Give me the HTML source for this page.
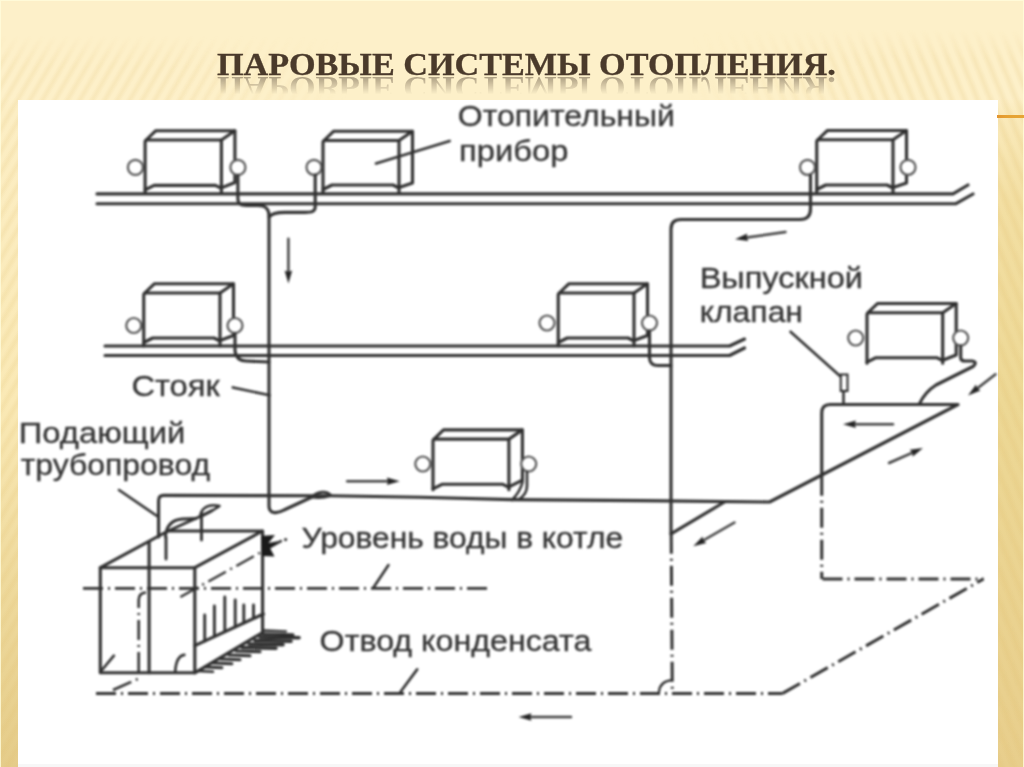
<!DOCTYPE html>
<html><head><meta charset="utf-8"><style>
html,body{margin:0;padding:0;}
body{width:1024px;height:767px;overflow:hidden;position:relative;background:#FDF0C9;}
.bg{position:absolute;left:0;top:0;width:1024px;height:767px;}
.wL{position:absolute;left:0;top:0;width:360px;height:767px;-webkit-mask-image:linear-gradient(90deg,#000 0px,#000 170px,rgba(0,0,0,0) 350px);}
.wR{position:absolute;left:660px;top:0;width:364px;height:767px;-webkit-mask-image:linear-gradient(270deg,#000 0px,#000 150px,rgba(0,0,0,0) 340px);}
.stL{position:absolute;left:0;top:36px;width:360px;height:731px;
 background:repeating-linear-gradient(120deg, rgba(225,190,110,0) 0px, rgba(225,190,110,.15) 3.5px, rgba(225,190,110,.15) 4.5px, rgba(225,190,110,0) 8px, rgba(225,190,110,0) 10.8px);
 -webkit-mask-image:linear-gradient(180deg, rgba(0,0,0,0) 0px, #000 30px);}
.stR{position:absolute;left:0;top:30px;width:364px;height:737px;
 background:repeating-linear-gradient(68deg, rgba(225,190,110,0) 0px, rgba(225,190,110,.17) 4px, rgba(225,190,110,.17) 5px, rgba(225,190,110,0) 9px, rgba(225,190,110,0) 12px);
 -webkit-mask-image:linear-gradient(180deg, rgba(0,0,0,0) 0px, #000 30px);}
.goldL{position:absolute;left:0;top:0;width:18px;height:767px;background:linear-gradient(180deg,#FDF0C9 0px,#FDF0C9 98px,#FCEEC4 110px,#FAE9B5 400px,#EFDA9D 580px,#E5CC89 767px);}
.goldR{position:absolute;left:997px;top:0;width:27px;height:767px;background:linear-gradient(180deg,#FDF0C9 0px,#FDF0C9 98px,#FAEABB 115px,#F3DFA3 200px,#EDD895 400px,#E8CE8C 767px);}
.edge{position:absolute;left:0;top:0;width:1022px;height:767px;border:1px solid rgba(255,252,220,.8);border-bottom:none;}
.white{position:absolute;left:17.5px;top:99.7px;width:980px;height:668px;background:#fff;}
.orange{position:absolute;left:997px;top:115.3px;width:27px;height:2.6px;background:linear-gradient(90deg,#E3952E,#E6A232 40%,#E6A535);}
.title{position:absolute;left:217px;top:47px;font-family:"Liberation Serif",serif;font-weight:bold;font-size:32px;line-height:34px;color:#4A3A2B;white-space:nowrap;transform:scaleX(1.068);transform-origin:0 0;-webkit-text-stroke:0.3px #4A3A2B;}
.refl{position:absolute;left:217px;top:47px;font-family:"Liberation Serif",serif;font-weight:bold;font-size:32px;line-height:34px;color:#4A3A2B;white-space:nowrap;transform:scale(1.068,-1);transform-origin:0 29.2px;opacity:.45;
 -webkit-mask-image:linear-gradient(180deg, rgba(0,0,0,0) 0px, rgba(0,0,0,0) 11px, #000 29px);}
svg{position:absolute;left:0;top:0;filter:blur(0.8px);}
svg text{font-family:"Liberation Sans",sans-serif;font-size:29.5px;fill:#333;stroke:#333;stroke-width:0.3px;}
</style></head><body>
<div class="goldL"></div><div class="goldR"></div>
<div class="wL"><div class="stL"></div></div><div class="wR"><div class="stR"></div></div>
<div class="white"></div>
<div style="position:absolute;left:17.5px;top:764px;width:980px;height:3px;background:#f7f7f7;"></div>
<div class="edge"></div>
<div class="orange"></div>
<div class="title">ПАРОВЫЕ СИСТЕМЫ ОТОПЛЕНИЯ.</div>
<div class="refl">ПАРОВЫЕ СИСТЕМЫ ОТОПЛЕНИЯ.</div>
<svg width="1024" height="767" viewBox="0 0 1024 767">
<path d="M97 193.9 H953 L968 185" fill="none" stroke="#303030" stroke-width="3.12" stroke-linecap="round" stroke-linejoin="round" />
<path d="M97 203.8 H955.5 L973 194" fill="none" stroke="#303030" stroke-width="3.12" stroke-linecap="round" stroke-linejoin="round" />
<path d="M105 346 H729.5 L744.5 339" fill="none" stroke="#303030" stroke-width="3.12" stroke-linecap="round" stroke-linejoin="round" />
<path d="M105 355.5 H729.5 L744.5 348" fill="none" stroke="#303030" stroke-width="3.12" stroke-linecap="round" stroke-linejoin="round" />
<path d="M145.1 193 V142 Q145.1 140 147.1 140 H221.4 V193" fill="none" stroke="#303030" stroke-width="3.12" stroke-linecap="round" stroke-linejoin="round" />
<path d="M146.1 140 L155.6 130.8 H234.9 L221.4 140" fill="none" stroke="#303030" stroke-width="3.12" stroke-linecap="round" stroke-linejoin="round" />
<path d="M234.9 130.8 V182.5 L221.4 187.9" fill="none" stroke="#303030" stroke-width="3.12" stroke-linecap="round" stroke-linejoin="round" />
<path d="M145.1 189.9 L154.1 185.4 H215.4 L221.4 188.4" fill="none" stroke="#303030" stroke-width="3.12" stroke-linecap="round" stroke-linejoin="round" />
<path d="M323 193.5 V142.5 Q323 140.5 325 140.5 H399 V193.5" fill="none" stroke="#303030" stroke-width="3.12" stroke-linecap="round" stroke-linejoin="round" />
<path d="M324 140.5 L333.5 131.3 H412.5 L399 140.5" fill="none" stroke="#303030" stroke-width="3.12" stroke-linecap="round" stroke-linejoin="round" />
<path d="M412.5 131.3 V183.0 L399 187.5" fill="none" stroke="#303030" stroke-width="3.12" stroke-linecap="round" stroke-linejoin="round" />
<path d="M323 189.5 L332 185 H393 L399 188" fill="none" stroke="#303030" stroke-width="3.12" stroke-linecap="round" stroke-linejoin="round" />
<path d="M816.75 193.5 V141.75 Q816.75 139.75 818.75 139.75 H893 V193.5" fill="none" stroke="#303030" stroke-width="3.12" stroke-linecap="round" stroke-linejoin="round" />
<path d="M817.75 139.75 L827.25 130.55 H906.5 L893 139.75" fill="none" stroke="#303030" stroke-width="3.12" stroke-linecap="round" stroke-linejoin="round" />
<path d="M906.5 130.55 V183.0 L893 187.5" fill="none" stroke="#303030" stroke-width="3.12" stroke-linecap="round" stroke-linejoin="round" />
<path d="M816.75 189.5 L825.75 185 H887 L893 188" fill="none" stroke="#303030" stroke-width="3.12" stroke-linecap="round" stroke-linejoin="round" />
<path d="M143.75 346 V295 Q143.75 293 145.75 293 H220 V346" fill="none" stroke="#303030" stroke-width="3.12" stroke-linecap="round" stroke-linejoin="round" />
<path d="M144.75 293 L154.25 283.8 H233.5 L220 293" fill="none" stroke="#303030" stroke-width="3.12" stroke-linecap="round" stroke-linejoin="round" />
<path d="M233.5 283.8 V335.5 L220 340.5" fill="none" stroke="#303030" stroke-width="3.12" stroke-linecap="round" stroke-linejoin="round" />
<path d="M143.75 342.5 L152.75 338 H214 L220 341" fill="none" stroke="#303030" stroke-width="3.12" stroke-linecap="round" stroke-linejoin="round" />
<path d="M558.25 346 V295 Q558.25 293 560.25 293 H634 V346" fill="none" stroke="#303030" stroke-width="3.12" stroke-linecap="round" stroke-linejoin="round" />
<path d="M559.25 293 L568.75 283.8 H647.5 L634 293" fill="none" stroke="#303030" stroke-width="3.12" stroke-linecap="round" stroke-linejoin="round" />
<path d="M647.5 283.8 V335.5 L634 340.5" fill="none" stroke="#303030" stroke-width="3.12" stroke-linecap="round" stroke-linejoin="round" />
<path d="M558.25 342.5 L567.25 338 H628 L634 341" fill="none" stroke="#303030" stroke-width="3.12" stroke-linecap="round" stroke-linejoin="round" />
<path d="M433 489.7 V441.1 Q433 439.1 435 439.1 H508.9 V489.7" fill="none" stroke="#303030" stroke-width="3.12" stroke-linecap="round" stroke-linejoin="round" />
<path d="M434 439.1 L443.5 429.90000000000003 H522.4 L508.9 439.1" fill="none" stroke="#303030" stroke-width="3.12" stroke-linecap="round" stroke-linejoin="round" />
<path d="M522.4 429.90000000000003 V480.2 L508.9 486.8" fill="none" stroke="#303030" stroke-width="3.12" stroke-linecap="round" stroke-linejoin="round" />
<path d="M433 488.8 L442 484.3 H502.9 L508.9 487.3" fill="none" stroke="#303030" stroke-width="3.12" stroke-linecap="round" stroke-linejoin="round" />
<path d="M867 363.2 V314.7 Q867 312.7 869 312.7 H942.7 V363.2" fill="none" stroke="#303030" stroke-width="3.12" stroke-linecap="round" stroke-linejoin="round" />
<path d="M868 312.7 L877.5 303.5 H956.2 L942.7 312.7" fill="none" stroke="#303030" stroke-width="3.12" stroke-linecap="round" stroke-linejoin="round" />
<path d="M956.2 303.5 V355 L942.7 360.2" fill="none" stroke="#303030" stroke-width="3.12" stroke-linecap="round" stroke-linejoin="round" />
<path d="M867 362.2 L876 357.7 H936.7 L942.7 360.7" fill="none" stroke="#303030" stroke-width="3.12" stroke-linecap="round" stroke-linejoin="round" />
<circle cx="135.4" cy="167.4" r="7.5" fill="#fff" stroke="#555" stroke-width="2.2"/>
<circle cx="237.9" cy="167.4" r="7.5" fill="#fff" stroke="#555" stroke-width="2.2"/>
<circle cx="314" cy="167.3" r="7.5" fill="#fff" stroke="#555" stroke-width="2.2"/>
<circle cx="807.5" cy="167.3" r="7.5" fill="#fff" stroke="#555" stroke-width="2.2"/>
<circle cx="908" cy="167.3" r="7.5" fill="#fff" stroke="#555" stroke-width="2.2"/>
<circle cx="133.75" cy="325.5" r="7.5" fill="#fff" stroke="#555" stroke-width="2.2"/>
<circle cx="235" cy="325.5" r="7.5" fill="#fff" stroke="#555" stroke-width="2.2"/>
<circle cx="547" cy="323" r="7.5" fill="#fff" stroke="#555" stroke-width="2.2"/>
<circle cx="649.5" cy="323" r="7.5" fill="#fff" stroke="#555" stroke-width="2.2"/>
<circle cx="422.8" cy="464" r="7.5" fill="#fff" stroke="#555" stroke-width="2.2"/>
<circle cx="528.7" cy="464" r="7.5" fill="#fff" stroke="#555" stroke-width="2.2"/>
<circle cx="855.7" cy="338" r="7.5" fill="#fff" stroke="#555" stroke-width="2.2"/>
<circle cx="960.7" cy="338" r="7.5" fill="#fff" stroke="#555" stroke-width="2.2"/>
<path d="M237.9 175.5 V199 C238 205, 242 205.5, 250 205.5 L258 205.5 C266 205.5, 269 209, 269 216 V506 C269 514, 277 514, 284 510 L312 497" fill="none" stroke="#303030" stroke-width="3.12" stroke-linecap="round" stroke-linejoin="round" />
<path d="M315.2 175 V207 C315 211.5, 312 212.4, 305 212.4 L285 212.4 C278 212.4, 272 213, 269 217" fill="none" stroke="#303030" stroke-width="3.12" stroke-linecap="round" stroke-linejoin="round" />
<path d="M312 497 C318 491, 327 490.5, 331 495.5 C325 497.5, 318 498.5, 312 497" fill="none" stroke="#303030" stroke-width="2.60" stroke-linecap="round" stroke-linejoin="round" />
<path d="M235 333.5 V351 Q236 360.5 246 361 L269 362" fill="none" stroke="#303030" stroke-width="3.12" stroke-linecap="round" stroke-linejoin="round" />
<path d="M232.8 387.4 L269.7 395.3" fill="none" stroke="#303030" stroke-width="2.60" stroke-linecap="round" stroke-linejoin="round" />
<path d="M671 533.8 V229 Q671 219.5 681 219.5 H800 Q810.5 219.5 810.5 209 V175.5" fill="none" stroke="#303030" stroke-width="3.12" stroke-linecap="round" stroke-linejoin="round" />
<path d="M649.5 331 V358 Q650 365.5 658 365.5 H671" fill="none" stroke="#303030" stroke-width="3.12" stroke-linecap="round" stroke-linejoin="round" />
<path d="M671 533.8 L724.5 502" fill="none" stroke="#303030" stroke-width="3.12" stroke-linecap="round" stroke-linejoin="round" />
<path d="M158.6 537 V500.4 Q158.6 495.4 163.6 495.4 L330 495.8 L420 497.3 L512 499.6 L640 500.6 L769.5 502 L958 404.5 H830 Q821.75 404.5 821.75 413 V475.7" fill="none" stroke="#303030" stroke-width="3.12" stroke-linecap="round" stroke-linejoin="round" />
<path d="M527 472 V486 Q527 494 519 499.3" fill="none" stroke="#303030" stroke-width="2.60" stroke-linecap="round" stroke-linejoin="round" />
<path d="M522.6 482 Q520 492 512 500" fill="none" stroke="#303030" stroke-width="2.60" stroke-linecap="round" stroke-linejoin="round" />
<path d="M960.7 346 V358 Q961 361 965 361 H972 Q978 362 973 366.5 L936 385 Q925 392 919.5 403.7" fill="none" stroke="#303030" stroke-width="3.12" stroke-linecap="round" stroke-linejoin="round" />
<rect x="840.75" y="374.5" width="6.75" height="16.5" fill="#fff" stroke="#262626" stroke-width="2"/>
<path d="M843.5 391 V404.5" fill="none" stroke="#303030" stroke-width="2.60" stroke-linecap="round" stroke-linejoin="round" />
<path d="M790.5 331.75 L840 376" fill="none" stroke="#303030" stroke-width="2.60" stroke-linecap="round" stroke-linejoin="round" />
<path d="M376 163.5 L449.75 141" fill="none" stroke="#303030" stroke-width="2.60" stroke-linecap="round" stroke-linejoin="round" />
<path d="M96 693.6 H782.6" fill="none" stroke="#303030" stroke-width="2.99" stroke-linecap="butt" stroke-linejoin="round" stroke-dasharray="20 5 2 5"/>
<path d="M782.6 693.4 L983.5 578.9" fill="none" stroke="#303030" stroke-width="2.99" stroke-linecap="butt" stroke-linejoin="round" stroke-dasharray="20 5 2 5"/>
<path d="M822.5 578.9 H983.5" fill="none" stroke="#303030" stroke-width="2.99" stroke-linecap="butt" stroke-linejoin="round" stroke-dasharray="20 5 2 5"/>
<path d="M821.75 475.7 V578.9" fill="none" stroke="#303030" stroke-width="2.99" stroke-linecap="butt" stroke-linejoin="round" stroke-dasharray="20 5 2 5"/>
<path d="M671.2 533.8 L672.3 693.4" fill="none" stroke="#303030" stroke-width="2.99" stroke-linecap="butt" stroke-linejoin="round" stroke-dasharray="20 5 2 5"/>
<path d="M659 692 Q660 681 672 680.2" fill="none" stroke="#303030" stroke-width="2.34" stroke-linecap="round" stroke-linejoin="round" />
<path d="M83 588.4 H490" fill="none" stroke="#303030" stroke-width="2.73" stroke-linecap="butt" stroke-linejoin="round" stroke-dasharray="20 5 2 5"/>
<path d="M373.5 587.5 L388.5 565" fill="none" stroke="#303030" stroke-width="2.60" stroke-linecap="round" stroke-linejoin="round" />
<path d="M400.4 692 L417.2 669.4" fill="none" stroke="#303030" stroke-width="2.60" stroke-linecap="round" stroke-linejoin="round" />
<path d="M113 690 L140 678" fill="none" stroke="#303030" stroke-width="2.60" stroke-linecap="butt" stroke-linejoin="round" stroke-dasharray="20 5 2 5"/>
<path d="M100.3 567.7 H194.8 V672.8 H100.3 Z" fill="none" stroke="#303030" stroke-width="3.12" stroke-linecap="round" stroke-linejoin="round" />
<path d="M100.3 567.7 L168 531 H262.6 L194.8 567.7" fill="none" stroke="#303030" stroke-width="3.12" stroke-linecap="round" stroke-linejoin="round" />
<path d="M262.6 531 V632.5 L194.8 672.8" fill="none" stroke="#303030" stroke-width="3.12" stroke-linecap="round" stroke-linejoin="round" />
<path d="M194.8 645.7 L263.4 614" fill="none" stroke="#303030" stroke-width="3.12" stroke-linecap="round" stroke-linejoin="round" />
<path d="M204.7 641.1262 V615" fill="none" stroke="#303030" stroke-width="2.86" stroke-linecap="round" stroke-linejoin="round" />
<path d="M214.4 636.6448 V606" fill="none" stroke="#303030" stroke-width="2.86" stroke-linecap="round" stroke-linejoin="round" />
<path d="M224.8 631.84 V597" fill="none" stroke="#303030" stroke-width="2.86" stroke-linecap="round" stroke-linejoin="round" />
<path d="M235.2 627.0352 V600" fill="none" stroke="#303030" stroke-width="2.86" stroke-linecap="round" stroke-linejoin="round" />
<path d="M243.8 623.062 V605" fill="none" stroke="#303030" stroke-width="2.86" stroke-linecap="round" stroke-linejoin="round" />
<path d="M253.5 618.5806 V605" fill="none" stroke="#303030" stroke-width="2.86" stroke-linecap="round" stroke-linejoin="round" />
<path d="M149.1 541.5 V672.8" fill="none" stroke="#303030" stroke-width="3.12" stroke-linecap="round" stroke-linejoin="round" />
<path d="M138.7 672 V600 Q138.7 593 146 592.5" fill="none" stroke="#303030" stroke-width="2.60" stroke-linecap="butt" stroke-linejoin="round" stroke-dasharray="20 5 2 5"/>
<path d="M175.2 672 Q176 656 184.4 654.9" fill="none" stroke="#303030" stroke-width="2.60" stroke-linecap="round" stroke-linejoin="round" />
<path d="M100.3 672 L113.9 655.7" fill="none" stroke="#303030" stroke-width="2.60" stroke-linecap="round" stroke-linejoin="round" />
<path d="M180.4 597 L286 538.3" fill="none" stroke="#303030" stroke-width="2.34" stroke-linecap="butt" stroke-linejoin="round" stroke-dasharray="20 5 2 5"/>
<path d="M166 537 V559" fill="none" stroke="#303030" stroke-width="2.86" stroke-linecap="round" stroke-linejoin="round" />
<path d="M201.5 513 V540" fill="none" stroke="#303030" stroke-width="2.86" stroke-linecap="round" stroke-linejoin="round" />
<path d="M168 531 L200 516.5 L212 510.5" fill="none" stroke="#303030" stroke-width="2.86" stroke-linecap="round" stroke-linejoin="round" />
<path d="M200 517 C201 508, 208 503.5, 219.5 506 C214 510, 207 514, 200 517" fill="none" stroke="#303030" stroke-width="2.47" stroke-linecap="round" stroke-linejoin="round" />
<path d="M165.5 537 C166 526, 172 520, 182 519 L196 518.5" fill="none" stroke="#303030" stroke-width="2.86" stroke-linecap="round" stroke-linejoin="round" />
<path d="M119 490 L157 516" fill="none" stroke="#303030" stroke-width="2.60" stroke-linecap="round" stroke-linejoin="round" />
<polygon points="261,536 267,535.5 275,535 268.5,543 279,541 270,548 274.5,556.5 262,556" fill="#1a1a1a"/>
<circle cx="285.6" cy="539.6" r="1.6" fill="#333"/>
<path d="M264 630.5 L286 631.3" fill="none" stroke="#2e2e2e" stroke-width="2.34" stroke-linecap="round" stroke-linejoin="round" />
<path d="M263 634 L293 634.8" fill="none" stroke="#2e2e2e" stroke-width="3.12" stroke-linecap="round" stroke-linejoin="round" />
<path d="M260 637 L299 637.8" fill="none" stroke="#2e2e2e" stroke-width="3.64" stroke-linecap="round" stroke-linejoin="round" />
<path d="M255 640.5 L291 641.3" fill="none" stroke="#2e2e2e" stroke-width="3.64" stroke-linecap="round" stroke-linejoin="round" />
<path d="M249 644 L283 644.8" fill="none" stroke="#2e2e2e" stroke-width="3.64" stroke-linecap="round" stroke-linejoin="round" />
<path d="M242 647.5 L276 648.3" fill="none" stroke="#2e2e2e" stroke-width="3.38" stroke-linecap="round" stroke-linejoin="round" />
<path d="M236 651 L260 651.8" fill="none" stroke="#2e2e2e" stroke-width="3.12" stroke-linecap="round" stroke-linejoin="round" />
<path d="M229 655 L250 655.8" fill="none" stroke="#2e2e2e" stroke-width="3.12" stroke-linecap="round" stroke-linejoin="round" />
<path d="M221 659 L240 659.8" fill="none" stroke="#2e2e2e" stroke-width="3.12" stroke-linecap="round" stroke-linejoin="round" />
<path d="M213 663 L232 663.8" fill="none" stroke="#2e2e2e" stroke-width="2.86" stroke-linecap="round" stroke-linejoin="round" />
<path d="M205 667 L222 667.8" fill="none" stroke="#2e2e2e" stroke-width="2.86" stroke-linecap="round" stroke-linejoin="round" />
<path d="M198 671 L213 671.8" fill="none" stroke="#2e2e2e" stroke-width="2.60" stroke-linecap="round" stroke-linejoin="round" />
<line x1="288.4" y1="238.8" x2="288.4" y2="271.5" stroke="#3e3e3e" stroke-width="2.47" stroke-linecap="round" />
<polygon points="288.4,283.5 284.6,270.5 288.4,272.0 292.2,270.5" fill="#222"/>
<line x1="785.5" y1="232" x2="746.8798639570629" y2="237.5062372180029" stroke="#3e3e3e" stroke-width="2.47" stroke-linecap="round" />
<polygon points="735,239.2 747.3,233.6 746.4,237.6 748.4,241.1" fill="#222"/>
<line x1="347.25" y1="481.25" x2="387.75" y2="481.25" stroke="#3e3e3e" stroke-width="2.47" stroke-linecap="round" />
<polygon points="399.75,481.25 386.8,485.1 388.2,481.2 386.8,477.4" fill="#222"/>
<line x1="893" y1="424.25" x2="855.0" y2="424.25" stroke="#3e3e3e" stroke-width="2.47" stroke-linecap="round" />
<polygon points="843,424.25 856.0,420.4 854.5,424.2 856.0,428.1" fill="#222"/>
<line x1="889" y1="463" x2="912.0209863811249" y2="452.8436824789155" stroke="#3e3e3e" stroke-width="2.47" stroke-linecap="round" />
<polygon points="923,448 912.6,456.7 912.5,452.6 909.6,449.8" fill="#222"/>
<line x1="995.5" y1="374.25" x2="977.495420016706" y2="388.1626299870908" stroke="#3e3e3e" stroke-width="2.47" stroke-linecap="round" />
<polygon points="968,395.5 976.0,384.5 977.1,388.5 980.6,390.6" fill="#222"/>
<line x1="734.5" y1="522.5" x2="703.64946948249" y2="540.2624266615967" stroke="#3e3e3e" stroke-width="2.47" stroke-linecap="round" />
<polygon points="693.25,546.25 702.6,536.5 703.2,540.5 706.4,543.1" fill="#222"/>
<line x1="571" y1="717" x2="530.5" y2="717.0" stroke="#3e3e3e" stroke-width="2.47" stroke-linecap="round" />
<polygon points="518.5,717 531.5,713.2 530.0,717.0 531.5,720.8" fill="#222"/>
<text x="421.81" y="126.4" transform="scale(1.0853,1)">Отопительный</text>
<text x="414.01" y="160.8" transform="scale(1.1089,1)">прибор</text>
<text x="634.05" y="287.7" transform="scale(1.1035,1)">Выпускной</text>
<text x="646.60" y="322.4" transform="scale(1.0821,1)">клапан</text>
<text x="118.50" y="395.9" transform="scale(1.1089,1)">Стояк</text>
<text x="16.92" y="442.59999999999997" transform="scale(1.1110,1)">Подающий</text>
<text x="19.13" y="475.4" transform="scale(1.0821,1)">трубопровод</text>
<text x="279.91" y="548.0" transform="scale(1.0768,1)">Уровень воды в котле</text>
<text x="292.74" y="651.1999999999999" transform="scale(1.0918,1)">Отвод конденсата</text>
</svg>
</body></html>
